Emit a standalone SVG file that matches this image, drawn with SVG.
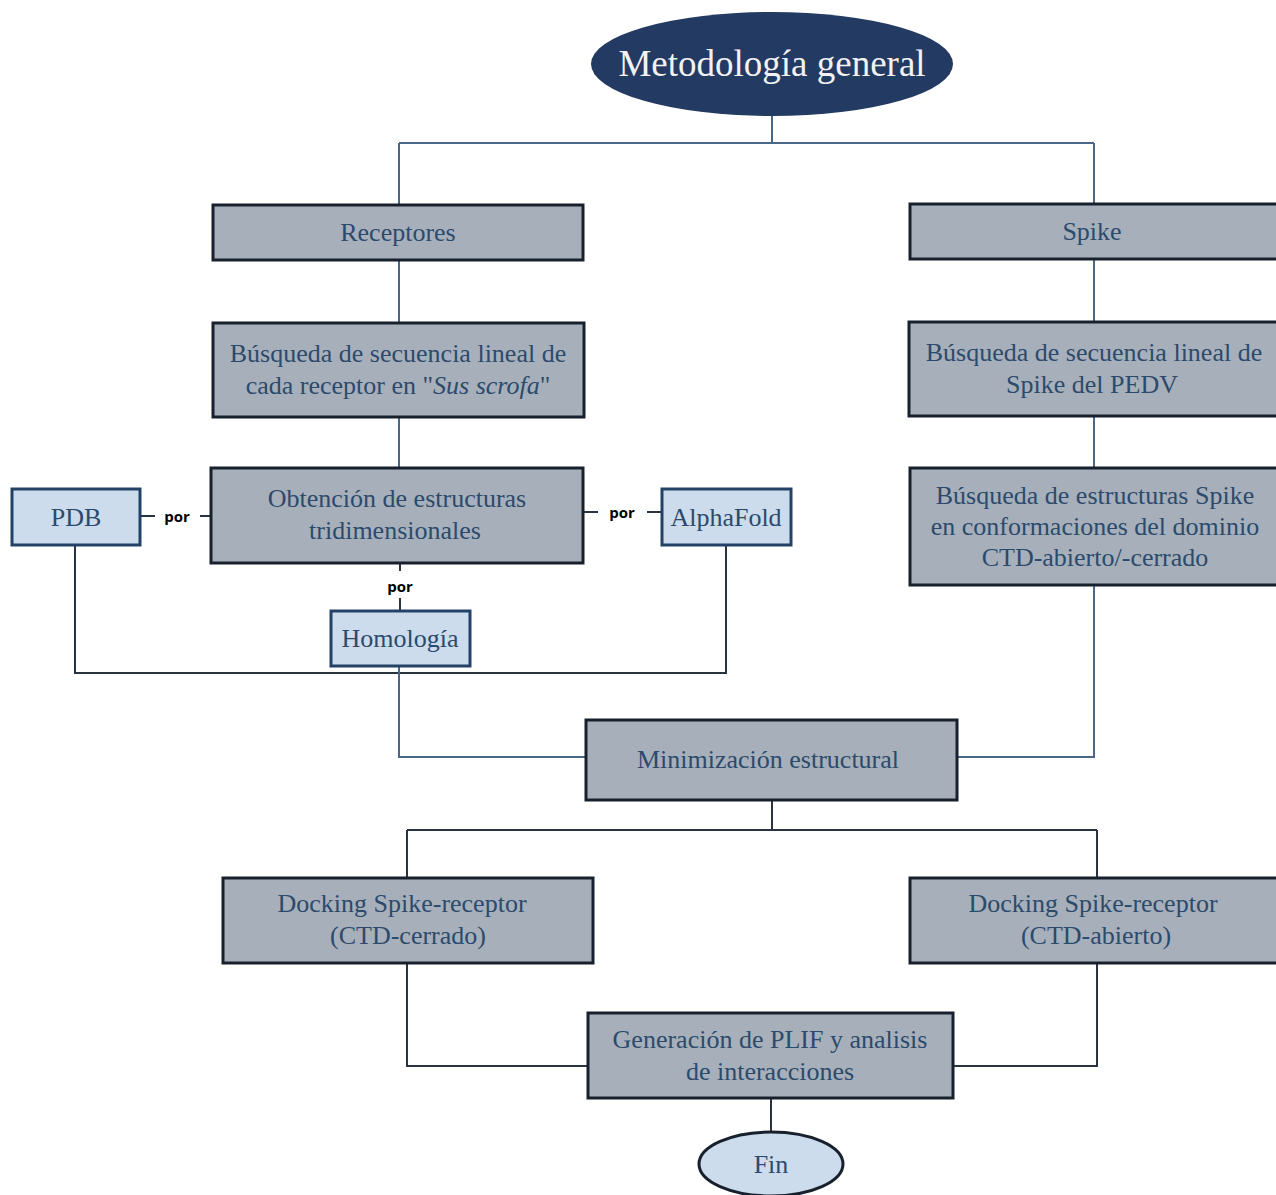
<svg xmlns="http://www.w3.org/2000/svg" width="1276" height="1195" viewBox="0 0 1276 1195">
<style>
.box{fill:#a7b0ba;stroke:#17202c;stroke-width:3}
.lbox{fill:#ccdcec;stroke:#244266;stroke-width:3}
.t{font-family:"Liberation Serif","DejaVu Serif",serif;font-size:26px;fill:#2c4a6c;text-anchor:middle}
.por{font-family:"Open Sans","Liberation Sans",Arial,sans-serif;font-size:15px;font-weight:bold;fill:#000;text-anchor:middle}
.c{fill:none;stroke:#4b6786;stroke-width:2}
.d{fill:none;stroke:#2a3340;stroke-width:2}
</style>
<rect width="1276" height="1195" fill="#fff"/>
<g id="connectors">
<path class="c" d="M772 116V143M399 143H1094M399 143V205M1094 143V204"/>
<path class="c" d="M399 260V323M399 417V468M1094 259V322M1094 416V468"/>
<path class="d" d="M140 516H155M200 516H211M583 512H598M647 512H662M400 563V571M400 598V611"/>
<path class="d" d="M75 545V673H726V545"/>
<path class="c" d="M399 666V757H586M1094 585V757H957"/>
<path class="d" d="M772 800V830M407 830H1097M407 830V878M1097 830V878"/>
<path class="d" d="M407 963V1066H588M1097 963V1066H953M771 1098V1132"/>
</g>
<g id="start">
<ellipse cx="772" cy="64" rx="181" ry="52" fill="#233a62"/>
<text x="772" y="76" class="t" style="fill:#f2f2f2;font-size:37px">Metodología general</text>
</g>
<g id="receptores">
<rect class="box" x="213" y="205" width="370" height="55"/>
<text class="t" x="398" y="241">Receptores</text>
</g>
<g id="spike">
<rect class="box" x="910" y="204" width="370" height="55"/>
<text class="t" x="1092" y="240">Spike</text>
</g>
<g id="busqueda-receptor">
<rect class="box" x="213" y="323" width="371" height="94"/>
<text class="t" x="398" y="362">Búsqueda de secuencia lineal de</text>
<text class="t" x="398" y="394">cada receptor en "<tspan font-style="italic">Sus scrofa</tspan>"</text>
</g>
<g id="busqueda-spike">
<rect class="box" x="909" y="322" width="371" height="94"/>
<text class="t" x="1094" y="361">Búsqueda de secuencia lineal de</text>
<text class="t" x="1092" y="393">Spike del PEDV</text>
</g>
<g id="obtencion">
<rect class="box" x="211" y="468" width="372" height="95"/>
<text class="t" x="397" y="507">Obtención de estructuras</text>
<text class="t" x="395" y="539">tridimensionales</text>
</g>
<g id="busqueda-estructuras">
<rect class="box" x="910" y="468" width="370" height="117"/>
<text class="t" x="1095" y="504">Búsqueda de estructuras Spike</text>
<text class="t" x="1095" y="535">en conformaciones del dominio</text>
<text class="t" x="1095" y="566">CTD-abierto/-cerrado</text>
</g>
<g id="pdb">
<rect class="lbox" x="12" y="489" width="128" height="56"/>
<text class="t" x="76" y="526">PDB</text>
</g>
<g id="alphafold">
<rect class="lbox" x="662" y="489" width="129" height="56"/>
<text class="t" x="726" y="526">AlphaFold</text>
</g>
<g id="homologia">
<rect class="lbox" x="331" y="611" width="139" height="55"/>
<text class="t" x="400" y="647">Homología</text>
</g>
<g id="labels">
<text class="por" x="177" y="522">por</text>
<text class="por" x="622" y="518">por</text>
<text class="por" x="400" y="592">por</text>
</g>
<g id="minimizacion">
<rect class="box" x="586" y="720" width="371" height="80"/>
<text class="t" x="768" y="768">Minimización estructural</text>
</g>
<g id="docking-cerrado">
<rect class="box" x="223" y="878" width="370" height="85"/>
<text class="t" x="402" y="912">Docking Spike-receptor</text>
<text class="t" x="408" y="944">(CTD-cerrado)</text>
</g>
<g id="docking-abierto">
<rect class="box" x="910" y="878" width="370" height="85"/>
<text class="t" x="1093" y="912">Docking Spike-receptor</text>
<text class="t" x="1096" y="944">(CTD-abierto)</text>
</g>
<g id="generacion">
<rect class="box" x="588" y="1013" width="365" height="85"/>
<text class="t" x="770" y="1048">Generación de PLIF y analisis</text>
<text class="t" x="770" y="1080">de interacciones</text>
</g>
<g id="fin">
<ellipse cx="771" cy="1164" rx="72" ry="32" fill="#ccdcec" stroke="#17202c" stroke-width="3"/>
<text class="t" x="771" y="1173">Fin</text>
</g>
</svg>
